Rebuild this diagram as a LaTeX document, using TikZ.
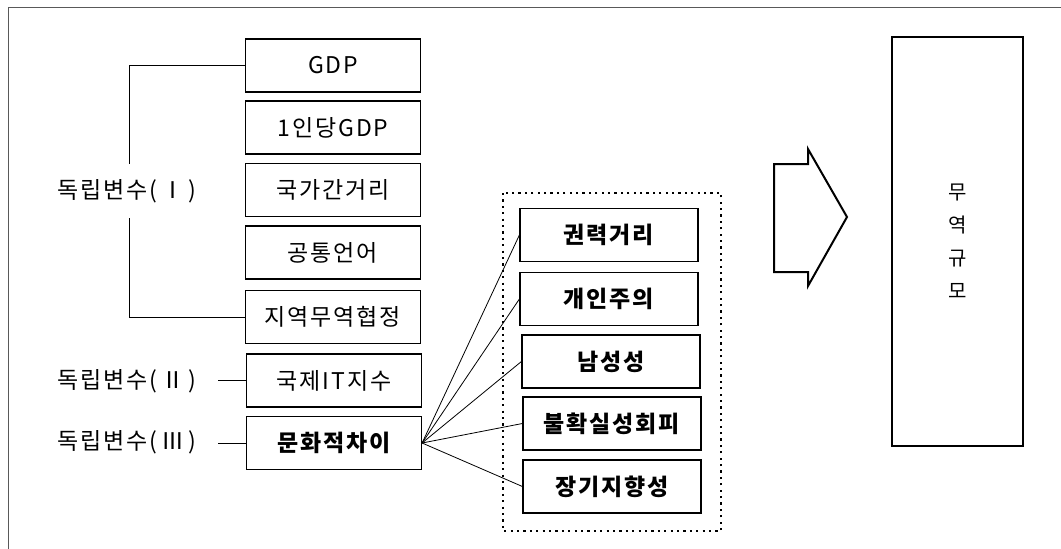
\documentclass[tikz,border=0pt]{standalone}
\usepackage{fontspec}
\setmainfont{Noto Sans CJK KR}[LetterSpace=8]
\usepackage{tikz}
\tikzset{
	varbox/.style={draw,line width=1.2pt,minimum width=175pt,minimum height=53pt,inner sep=0pt,font=\fontsize{23}{27}\selectfont},
	culbox/.style={varbox,minimum width=178pt,font=\fontsize{23}{27}\selectfont\bfseries},
	grplabel/.style={inner sep=0pt,font=\fontsize{23}{27}\selectfont},
	link/.style={line width=0.8pt}
}
\begin{document}
\begin{tikzpicture}[x=1pt,y=-1pt]
						\useasboundingbox (0,0) rectangle (1061,549);
						\draw [line width=1pt,black!65] (8,549) -- (8,7) -- (1061,7);

						\node [varbox] (gdp) at (333,65.5) {GDP};
						\node [varbox] (pcgdp) at (333,127.5) {1인당GDP};
						\node [varbox] (dist) at (333,190) {국가간거리};
						\node [varbox] (lang) at (333,252.5) {공통언어};
						\node [varbox] (fta) at (333,317) {지역무역협정};
						\node [varbox] (itidx) at (334,380.5) {국제IT지수};
						\node [varbox,font=\fontsize{23}{27}\selectfont\bfseries] (culture) at (334,443) {문화적차이};

						\node [grplabel] (grpI) at (127,191) {독립변수(\,Ⅰ\,)};
						\node [grplabel] (grpII) at (127,381) {독립변수(\,Ⅱ\,)};
						\node [grplabel] (grpIII) at (127,442) {독립변수(\,Ⅲ\,)};

						\coordinate (brtop) at (129,164);
						\coordinate (brbot) at (129,218);
						\draw [link] (gdp.west) -| (brtop);
						\draw [link] (brbot) |- (fta.west);
						\draw [link] (218,380.5) -- (itidx.west);
						\draw [link] (218,443) -- (culture.west);

						\draw [line width=2.2pt,dash pattern=on 2.2pt off 4.2pt] (503,193) rectangle (721,531);
						\node [culbox] (power) at (609,235) {권력거리};
						\node [culbox] (indiv) at (609,299) {개인주의};
						\node [culbox] (masc) at (611,361.5) {남성성};
						\node [culbox] (uncert) at (612,423.5) {불확실성회피};
						\node [culbox] (longterm) at (612,486.5) {장기지향성};

						\foreach \k in {power,indiv,masc,uncert,longterm}
							\draw [link] (culture.east) -- (\k.west);

						\draw [line width=2pt,line join=miter] (774,164) -- (808,164) -- (808,149) -- (847,217) -- (808,286) -- (808,272) -- (774,272) -- cycle;

						\node [draw,line width=1.2pt,minimum width=131pt,minimum height=409pt,inner sep=0pt,
							align=center,font=\fontsize{20}{33}\selectfont] (trade) at (957.5,241.5) {무\\역\\규\\모};
					\end{tikzpicture}
\end{document}
